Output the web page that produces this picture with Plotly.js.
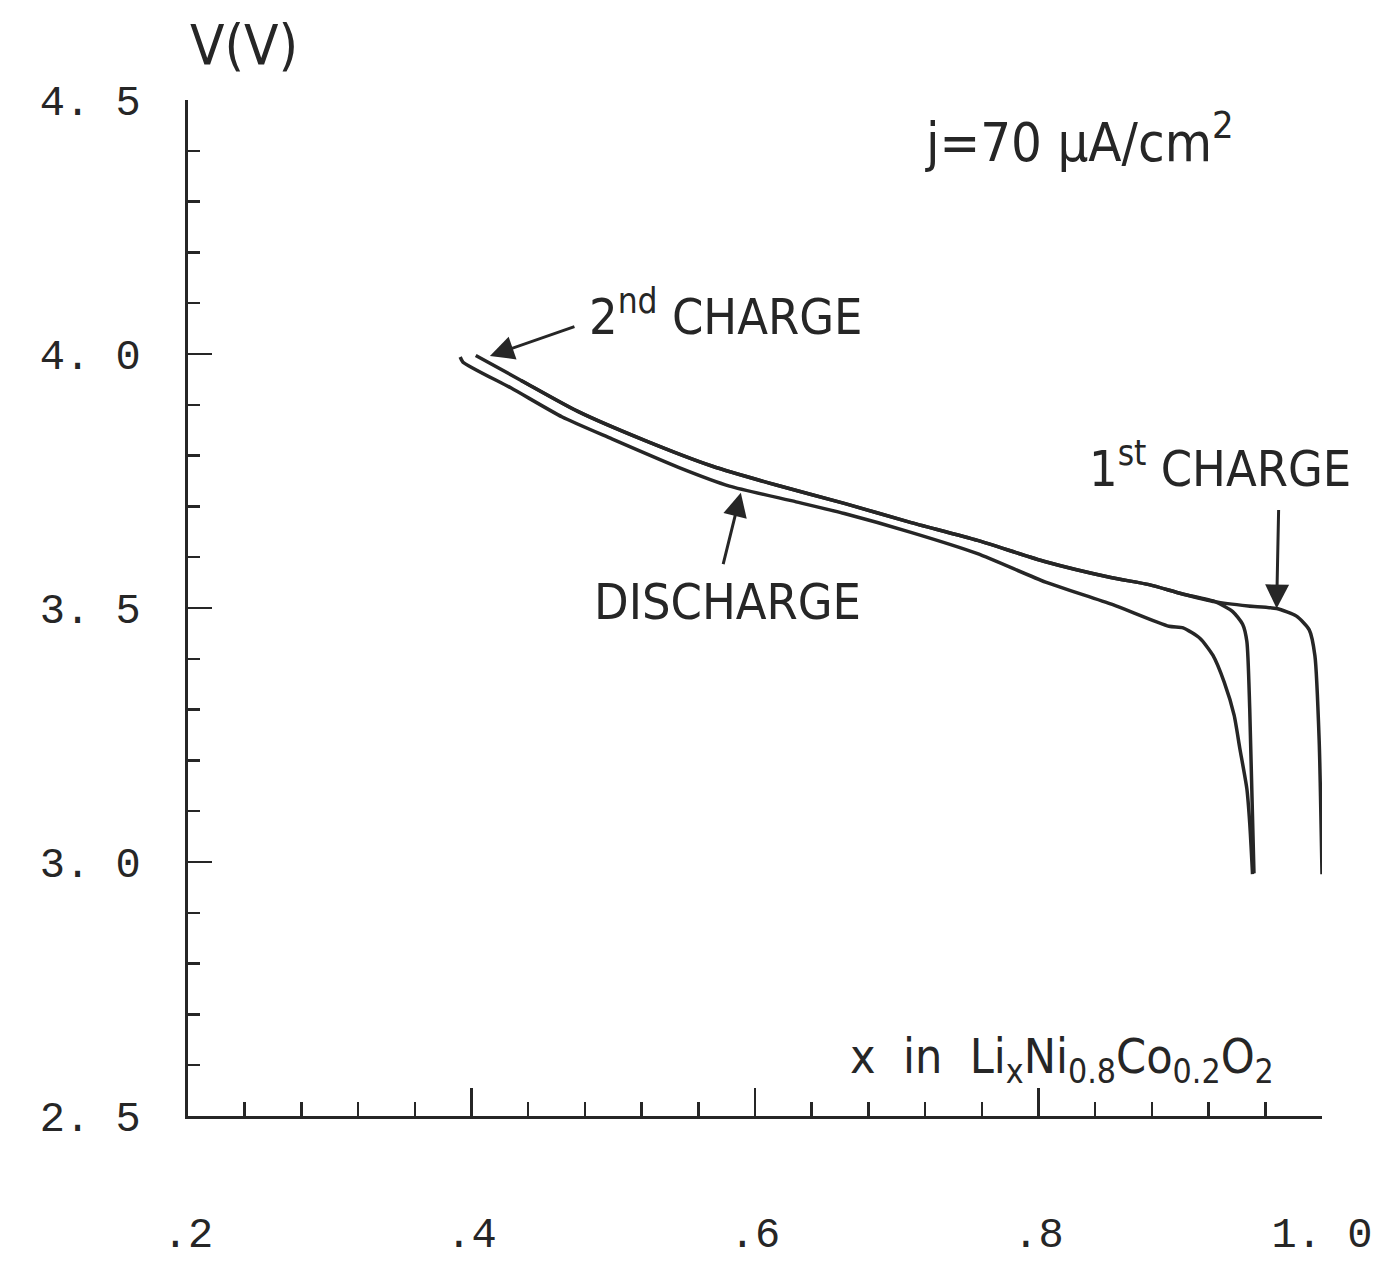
<!DOCTYPE html>
<html>
<head>
<meta charset="utf-8">
<script src="https://cdn.plot.ly/plotly-3.0.1.min.js"></script>
<style>html,body{margin:0;padding:0;background:#fff;}#chart{width:1379px;height:1272px;}</style>
</head>
<body>
<div id="chart"></div>
<script>
// Discharge (lower curve), from x≈0.39 at 4.0 V down to x≈0.95
const dischargeX = [0.392,0.394,0.428,0.464,0.499,0.546,0.582,0.629,0.663,0.710,0.757,0.805,0.852,0.892,0.902,0.914,0.923,0.931,0.938,0.942,0.947,0.949,0.951];
const dischargeV = [3.994,3.984,3.933,3.876,3.833,3.777,3.740,3.709,3.686,3.649,3.607,3.551,3.507,3.464,3.461,3.440,3.407,3.354,3.289,3.224,3.144,3.077,2.976];

// 2nd charge: starts at x≈0.95 (end of discharge), rises, then runs up to x≈0.40
const charge2X = [0.952,0.949,0.947,0.944,0.937,0.925,0.901,0.878,0.851,0.805,0.757,0.709,0.663,0.615,0.570,0.523,0.475,0.435,0.403];
const charge2V = [2.978,3.303,3.434,3.468,3.493,3.512,3.528,3.546,3.560,3.591,3.633,3.669,3.706,3.742,3.779,3.829,3.887,3.948,3.997];

// 1st charge: starts at x=1.0, rises, follows the upper curve up to x≈0.435
const charge1X = [1.000,0.998,0.995,0.991,0.982,0.968,0.948,0.925,0.901,0.878,0.851,0.805,0.757,0.709,0.663,0.615,0.570,0.523,0.475,0.435];
const charge1V = [2.976,3.239,3.406,3.457,3.484,3.499,3.504,3.512,3.528,3.546,3.560,3.591,3.633,3.669,3.706,3.742,3.779,3.829,3.887,3.948];

const xTickVals = [0.2,0.4,0.6,0.8,1.0];
const xTickText = ['.2','.4','.6','.8','1. 0'];
const yTickVals = [2.5,3.0,3.5,4.0,4.5];
const yTickText = ['2. 5','3. 0','3. 5','4. 0','4. 5'];

const ink = '#262626';
const lineStyle = {color: ink, width: 3.5, shape: 'spline', smoothing: 0.6};
const textFont = {family: 'Liberation Sans Narrow, DejaVu Sans Condensed, Liberation Sans, sans-serif', size: 50, color: ink};
const tickFont = {family: 'Liberation Mono, DejaVu Sans Mono, monospace', size: 42, color: ink};

const traces = [
  {x: dischargeX, y: dischargeV, mode: 'lines', line: lineStyle, name: 'Discharge', hoverinfo: 'x+y'},
  {x: charge2X, y: charge2V, mode: 'lines', line: lineStyle, name: '2nd charge', hoverinfo: 'x+y'},
  {x: charge1X, y: charge1V, mode: 'lines', line: lineStyle, name: '1st charge', hoverinfo: 'x+y'}
];

const layout = {
  width: 1379, height: 1272,
  margin: {l: 188, r: 57, t: 100, b: 156},
  paper_bgcolor: '#fff', plot_bgcolor: '#fff',
  showlegend: false,
  xaxis: {
    range: [0.2, 1.0], showgrid: false, zeroline: false,
    showline: true, linecolor: ink, linewidth: 3,
    ticks: 'inside', ticklen: 28, tickwidth: 2.5, tickcolor: ink,
    tickmode: 'array', tickvals: xTickVals, ticktext: xTickText,
    tickfont: tickFont, ticklabelstandoff: 78,
    minor: {tickmode: 'linear', tick0: 0.2, dtick: 0.04, ticks: 'inside', ticklen: 14, tickwidth: 2.5, tickcolor: ink, showgrid: false}
  },
  yaxis: {
    range: [2.5, 4.5], showgrid: false, zeroline: false,
    showline: true, linecolor: ink, linewidth: 3,
    ticks: 'inside', ticklen: 24, tickwidth: 2.5, tickcolor: ink,
    tickmode: 'array', tickvals: yTickVals, ticktext: yTickText,
    tickfont: tickFont, ticklabelstandoff: 36,
    minor: {tickmode: 'linear', tick0: 2.5, dtick: 0.1, ticks: 'inside', ticklen: 12, tickwidth: 2.5, tickcolor: ink, showgrid: false}
  },
  annotations: [
    {xref: 'paper', yref: 'paper', x: 0.0, y: 1.055, xanchor: 'left', yanchor: 'middle', showarrow: false,
     text: 'V(V)', font: Object.assign({}, textFont, {size: 56})},
    {xref: 'paper', yref: 'paper', x: 0.648, y: 0.962, xanchor: 'left', yanchor: 'middle', showarrow: false,
     text: 'j=70 μA/cm<sup>2</sup>', font: Object.assign({}, textFont, {size: 54})},
    {xref: 'paper', yref: 'paper', x: 0.352, y: 0.79, xanchor: 'left', yanchor: 'middle', showarrow: false,
     text: '2<sup>nd</sup> CHARGE', font: textFont},
    {xref: 'paper', yref: 'paper', x: 0.356, y: 0.506, xanchor: 'left', yanchor: 'middle', showarrow: false,
     text: 'DISCHARGE', font: textFont},
    {xref: 'paper', yref: 'paper', x: 0.793, y: 0.64, xanchor: 'left', yanchor: 'middle', showarrow: false,
     text: '1<sup>st</sup> CHARGE', font: textFont},
    {xref: 'paper', yref: 'paper', x: 0.582, y: 0.056, xanchor: 'left', yanchor: 'middle', showarrow: false,
     text: 'x  in  Li<sub>x</sub>Ni<sub>0.8</sub>Co<sub>0.2</sub>O<sub>2</sub>', font: Object.assign({}, textFont, {size: 48})},
    {x: 0.413, y: 3.996, xref: 'x', yref: 'y', text: '', showarrow: true, arrowhead: 2, arrowsize: 1.6, arrowwidth: 3, arrowcolor: ink, ax: 86, ay: -30, standoff: 0},
    {x: 0.590, y: 3.727, xref: 'x', yref: 'y', text: '', showarrow: true, arrowhead: 2, arrowsize: 1.6, arrowwidth: 3, arrowcolor: ink, ax: -18, ay: 73, standoff: 0},
    {x: 0.968, y: 3.499, xref: 'x', yref: 'y', text: '', showarrow: true, arrowhead: 2, arrowsize: 1.6, arrowwidth: 3, arrowcolor: ink, ax: 2, ay: -100, standoff: 0}
  ]
};

Plotly.newPlot('chart', traces, layout, {displayModeBar: false, staticPlot: true});
</script>
</body>
</html>
